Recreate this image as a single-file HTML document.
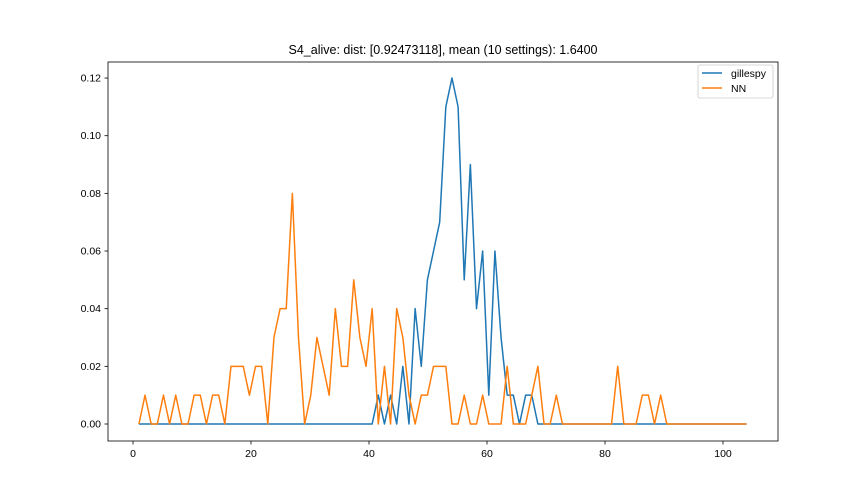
<!DOCTYPE html>
<html><head><meta charset="utf-8"><style>
body{margin:0;background:#fff}
svg{display:block;font-family:"Liberation Sans","DejaVu Sans",sans-serif}
</style></head><body>
<svg id="chart" width="864" height="504">
<rect width="864" height="504" fill="#fff"/>
<text x="443" y="54" text-anchor="middle" font-size="12.5">S4_alive: dist: [0.92473118], mean (10 settings): 1.6400</text>
<g id="grid"></g>
<g id="series"></g>
<rect x="108" y="62" width="670" height="379" fill="none" stroke="#000" stroke-width="0.8"/>
<g>
<rect x="698" y="65" width="75" height="33" rx="2" fill="#fff" stroke="#ccc" stroke-width="0.8"/>
<line x1="702" y1="73" x2="722" y2="73" stroke="#1f77b4" stroke-width="1.5"/>
<text x="731" y="77" font-size="10.5">gillespy</text>
<line x1="702" y1="88" x2="722" y2="88" stroke="#ff7f0e" stroke-width="1.5"/>
<text x="731" y="92" font-size="10.5">NN</text>
</g>
</svg>
<script>
const gillespy = [0,0,0,0,0,0,0,0,0,0, 0,0,0,0,0,0,0,0,0,0, 0,0,0,0,0,0,0,0,0,0, 0,0,0,0,0,0,0,0,0,0.01, 0,0.01,0,0.02,0,0.04,0.02,0.05,0.06,0.07, 0.11,0.12,0.11,0.05,0.09,0.04,0.06,0.01,0.06,0.03, 0.01,0.01,0,0.01,0.01,0,0,0,0,0, 0,0,0,0,0,0,0,0,0,0, 0,0,0,0,0,0,0,0,0,0, 0,0,0,0,0,0,0,0,0,0];
const nn = [0,0.01,0,0,0.01,0,0.01,0,0,0.01, 0.01,0,0.01,0.01,0,0.02,0.02,0.02,0.01,0.02, 0.02,0,0.03,0.04,0.04,0.08,0.03,0,0.01,0.03, 0.02,0.01,0.04,0.02,0.02,0.05,0.03,0.02,0.04,0, 0.02,0,0.04,0.03,0.01,0,0.01,0.01,0.02,0.02, 0.02,0,0,0.01,0,0,0.01,0,0,0, 0.02,0,0,0,0.01,0.02,0,0,0.01,0, 0,0,0,0,0,0,0,0,0.02,0, 0,0,0.01,0.01,0,0.01,0,0,0,0, 0,0,0,0,0,0,0,0,0,0];
const xTicks = [0,20,40,60,80,100];
const yTicks = [0,0.02,0.04,0.06,0.08,0.10,0.12];
const yLabels = ["0.00","0.02","0.04","0.06","0.08","0.10","0.12"];
const xStart = 1, xEnd = 104;

const NS = "http://www.w3.org/2000/svg";
const xs = v => 133 + (v) * 5.9;
const ys = v => 424 - v * 2883;
const grid = document.getElementById('grid');
const ser = document.getElementById('series');
function mk(tag, attrs, parent){const e=document.createElementNS(NS,tag);for(const k in attrs)e.setAttribute(k,attrs[k]);parent.appendChild(e);return e;}
xTicks.forEach(t=>{
  const l=mk('line',{x1:xs(t),x2:xs(t),y1:441,y2:444.5,stroke:'#000','stroke-width':0.8},grid);
  
  
  const tx=mk('text',{x:xs(t),y:457,'text-anchor':'middle','font-size':10.5},grid);
  tx.textContent=t;
  
  
});
yTicks.forEach((t,i)=>{
  const l=mk('line',{x1:104.5,x2:108,y1:ys(t),y2:ys(t),stroke:'#000','stroke-width':0.8},grid);
  
  
  const tx=mk('text',{x:101,y:ys(t)+3.5,'text-anchor':'end','font-size':10.5},grid);
  tx.textContent=yLabels[i];
  
  
});
function line(data,color,name){
  const n=data.length, step=(xEnd-xStart)/(n-1);
  const pts=data.map((v,i)=>xs(xStart+i*step).toFixed(2)+','+ys(v).toFixed(2)).join(' ');
  const p=mk('polyline',{points:pts,fill:'none',stroke:color,'stroke-width':1.5,'stroke-linejoin':'round'},ser);
  
  
}
line(gillespy,'#1f77b4','gillespy-line');
line(nn,'#ff7f0e','nn-line');
</script>
</body></html>
